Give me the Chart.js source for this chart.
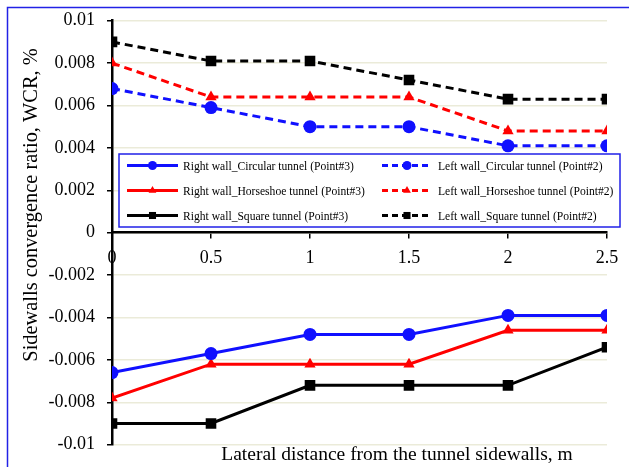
<!DOCTYPE html>
<html>
<head>
<meta charset="utf-8">
<script src="https://cdn.jsdelivr.net/npm/chart.js@4/dist/chart.umd.min.js"></script>
<style>
    html, body { margin: 0; padding: 0; background: #fff; }
    #wrap { position: relative; width: 629px; height: 467px; }
</style>
</head>
<body>
<div id="wrap"><canvas id="chart" width="629" height="467"></canvas></div>
<script>
const distances = [0, 0.5, 1, 1.5, 2, 2.5];

const rightCircular = [-0.0066, -0.0057, -0.0048, -0.0048, -0.0039, -0.0039];
const rightHorseshoe = [-0.0078, -0.0062, -0.0062, -0.0062, -0.0046, -0.0046];
const rightSquare = [-0.009, -0.009, -0.0072, -0.0072, -0.0072, -0.0054];
const leftCircular = [0.0068, 0.0059, 0.005, 0.005, 0.0041, 0.0041];
const leftHorseshoe = [0.008, 0.0064, 0.0064, 0.0064, 0.0048, 0.0048];
const leftSquare = [0.009, 0.0081, 0.0081, 0.0072, 0.0063, 0.0063];

const yTitle = "Sidewalls convergence ratio, WCR, %";
const xTitle = "Lateral distance from the tunnel sidewalls, m";

const BLUE = "#1010ff";
const RED = "#ff0000";
const BLACK = "#000000";
const SERIF = "'Liberation Serif', 'Times New Roman', serif";

const toPoints = (values) => values.map((y, i) => ({ x: distances[i], y }));

const series = (label, values, color, pointStyle, dashed) => ({
    label,
    data: toPoints(values),
    borderColor: color,
    backgroundColor: color,
    borderWidth: 3,
    borderDash: dashed ? [8, 5] : [],
    pointStyle,
    pointRadius: pointStyle === "rect" ? 7.5 : 6.5,
    pointBorderWidth: 0,
    tension: 0
});

const datasets = [
    series("Right wall_Circular tunnel (Point#3)", rightCircular, BLUE, "circle", false),
    series("Right wall_Horseshoe tunnel (Point#3)", rightHorseshoe, RED, "triangle", false),
    series("Right wall_Square tunnel (Point#3)", rightSquare, BLACK, "rect", false),
    series("Left wall_Circular tunnel (Point#2)", leftCircular, BLUE, "circle", true),
    series("Left wall_Horseshoe tunnel (Point#2)", leftHorseshoe, RED, "triangle", true),
    series("Left wall_Square tunnel (Point#2)", leftSquare, BLACK, "rect", true)
];

// blue frame round the figure (only top and left edges fall inside the picture)
const framePlugin = {
    id: "frame",
    beforeDraw(chart) {
        const { ctx } = chart;
        ctx.save();
        ctx.strokeStyle = "#2222e6";
        ctx.lineWidth = 1.5;
        ctx.strokeRect(7.5, 7.5, 700, 600);
        ctx.restore();
    }
};

// two-column legend box inside the plot
const legendPlugin = {
    id: "boxLegend",
    afterDatasetsDraw(chart) {
        const { ctx } = chart;
        const box = { left: 119, top: 154, right: 620, bottom: 227 };
        const rows = [165.5, 190.5, 215.5];
        const cols = [{ lineStart: 127, lineEnd: 178, text: 183 }, { lineStart: 382, lineEnd: 432, text: 438 }];
        ctx.save();
        ctx.fillStyle = "#fff";
        ctx.fillRect(box.left, box.top, box.right - box.left, box.bottom - box.top);
        ctx.strokeStyle = "#2020e8";
        ctx.lineWidth = 1.5;
        ctx.strokeRect(box.left, box.top, box.right - box.left, box.bottom - box.top);
        chart.data.datasets.forEach((ds, i) => {
            const col = cols[Math.floor(i / 3)];
            const y = rows[i % 3];
            ctx.strokeStyle = ds.borderColor;
            ctx.lineWidth = 3;
            ctx.setLineDash(ds.borderDash.length ? [6, 4] : []);
            ctx.beginPath();
            ctx.moveTo(col.lineStart, y);
            ctx.lineTo(col.lineEnd, y);
            ctx.stroke();
            ctx.setLineDash([]);
            ctx.fillStyle = ds.backgroundColor;
            Chart.helpers.drawPoint(ctx, {
                pointStyle: ds.pointStyle,
                radius: ds.pointStyle === "rect" ? 5 : 4.5,
                rotation: 0,
                borderWidth: 0
            }, (col.lineStart + col.lineEnd) / 2, y);
            ctx.fillStyle = "#000";
            ctx.font = "11.6px " + SERIF;
            ctx.textBaseline = "middle";
            ctx.textAlign = "left";
            ctx.fillText(ds.label, col.text, y + 1);
        });
        ctx.restore();
    }
};

// axis titles sit off-centre in the original, so they are placed by hand
const titlesPlugin = {
    id: "axisTitles",
    afterDraw(chart) {
        const { ctx } = chart;
        ctx.save();
        ctx.fillStyle = "#000";
        ctx.textAlign = "center";
        ctx.textBaseline = "middle";
        ctx.font = "19.5px " + SERIF;
        ctx.fillText(xTitle, 397, 455);
        ctx.translate(32, 205);
        ctx.rotate(-Math.PI / 2);
        ctx.font = "20.4px " + SERIF;
        ctx.fillText(yTitle, 0, 0);
        ctx.restore();
    }
};

const numLabel = (v) => String(parseFloat(Number(v).toFixed(3)));

new Chart(document.getElementById("chart"), {
    type: "line",
    data: { datasets },
    options: {
        responsive: false,
        animation: false,
        layout: { padding: { top: 20.7, right: 22, bottom: 22.3, left: 0 } },
        plugins: {
            legend: { display: false },
            tooltip: { enabled: false }
        },
        scales: {
            x: {
                type: "linear",
                position: { y: 0 },
                min: 0,
                max: 2.5,
                afterFit(scale) { scale.paddingLeft = 0; scale.paddingRight = 0; },
                ticks: {
                    stepSize: 0.5,
                    color: "#000",
                    font: { family: SERIF, size: 18 },
                    padding: 10,
                    callback: numLabel
                },
                grid: {
                    drawOnChartArea: false,
                    drawTicks: true,
                    tickLength: 5,
                    tickColor: "#000",
                    lineWidth: 1.5
                },
                border: { color: "#000", width: 2.5 }
            },
            y: {
                min: -0.01,
                max: 0.01,
                afterFit(scale) {
                    scale.width = 112;
                    scale.paddingTop = 0;
                    scale.paddingBottom = 0;
                },
                ticks: {
                    stepSize: 0.002,
                    color: "#000",
                    padding: 12,
                    font: { family: SERIF, size: 18 },
                    callback: numLabel
                },
                grid: {
                    color: "#ebebd9",
                    lineWidth: 1.5,
                    tickLength: 5,
                    tickColor: "#000"
                },
                border: { color: "#000", width: 2.5 }
            }
        }
    },
    plugins: [framePlugin, legendPlugin, titlesPlugin]
});
</script>
</body>
</html>
